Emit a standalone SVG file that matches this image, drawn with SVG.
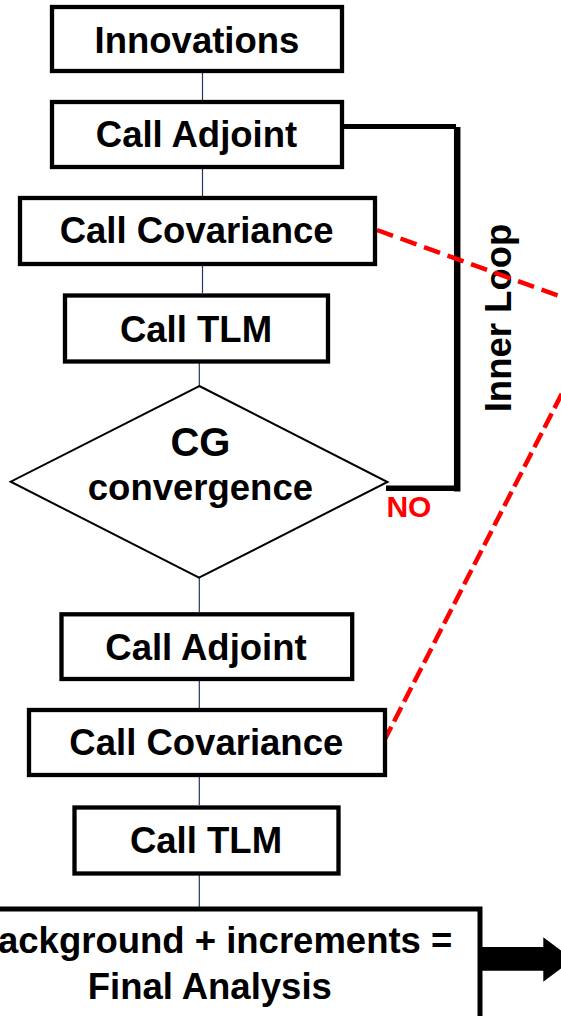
<svg xmlns="http://www.w3.org/2000/svg" width="561" height="1016" viewBox="0 0 561 1016">
<style>
.box{fill:#fff;stroke:#000;stroke-width:4.3}
.lbl{font-family:"Liberation Sans",Arial,sans-serif;font-weight:bold;font-size:36.5px;text-anchor:middle;fill:#000}
.conn{stroke:#1F3864;stroke-width:1.2;fill:none}
.loop{stroke:#000;fill:none}
.dash{stroke:#FF0000;stroke-width:4.5;fill:none}
</style>
<rect width="561" height="1016" fill="#fff"/>
<g id="connectors">
  <line class="conn" x1="202.5" y1="73" x2="202.5" y2="100"/>
  <line class="conn" x1="202.5" y1="169" x2="202.5" y2="196"/>
  <line class="conn" x1="202.5" y1="265" x2="202.5" y2="293"/>
  <line class="conn" x1="199.3" y1="363" x2="199.3" y2="386"/>
  <line class="conn" x1="199.3" y1="577.7" x2="199.3" y2="612"/>
  <line class="conn" x1="199.3" y1="681" x2="199.3" y2="708"/>
  <line class="conn" x1="199.3" y1="777" x2="199.3" y2="805"/>
  <line class="conn" x1="199.3" y1="875" x2="199.3" y2="907"/>
  <line class="loop" x1="344" y1="126.5" x2="456" y2="126.5" stroke-width="4.8"/>
  <line class="loop" x1="457.2" y1="127" x2="457.2" y2="491.5" stroke-width="6.5"/>
  <line class="loop" x1="386" y1="488.3" x2="460" y2="488.3" stroke-width="5.5"/>
  <text class="lbl" transform="translate(510.5,318) rotate(-90)">Inner Loop</text>
  <text x="386.4" y="517.3" style="font-family:'Liberation Sans',Arial,sans-serif;font-weight:bold;font-size:30px;fill:#FF0000">NO</text>
  <line class="dash" x1="377" y1="230" x2="600" y2="310.7" stroke-dasharray="17 8"/>
  <line class="dash" x1="384" y1="741" x2="580" y2="358.2" stroke-dasharray="16 6" stroke-width="4.2"/>
  <polygon points="481,947 543.3,947 543.3,937.3 573,959.5 543.3,981.7 543.3,970.7 481,970.7" fill="#000"/>
</g>
<g id="n1">
  <rect class="box" x="52" y="7" width="290" height="64"/>
  <text class="lbl" x="197" y="52.5">Innovations</text>
</g>
<g id="n2">
  <rect class="box" x="52" y="102" width="290" height="65"/>
  <text class="lbl" x="196.5" y="147">Call Adjoint</text>
</g>
<g id="n3">
  <rect class="box" x="20" y="198" width="355" height="66"/>
  <text class="lbl" x="196.6" y="243.3">Call Covariance</text>
</g>
<g id="n4">
  <rect class="box" x="65" y="295.5" width="263" height="66"/>
  <text class="lbl" x="196" y="341.7">Call TLM</text>
</g>
<g id="n5">
  <polygon points="199.3,386 387.5,482 199,577.7 10.7,481.7" fill="#fff" stroke="#000" stroke-width="2"/>
  <text class="lbl" x="200.4" y="456" style="font-size:40px">CG</text>
  <text class="lbl" x="200.4" y="500">convergence</text>
</g>
<g id="n6">
  <rect class="box" x="61.5" y="614.3" width="290.7" height="64.7"/>
  <text class="lbl" x="206" y="660">Call Adjoint</text>
</g>
<g id="n7">
  <rect class="box" x="29" y="710" width="356" height="65"/>
  <text class="lbl" x="206.3" y="755">Call Covariance</text>
</g>
<g id="n8">
  <rect class="box" x="74.5" y="807.5" width="264" height="66"/>
  <text class="lbl" x="206" y="853.3">Call TLM</text>
</g>
<g id="n9">
  <rect class="box" x="-30" y="909" width="510" height="140" style="stroke-width:5"/>
  <text class="lbl" x="212" y="953.3">Background + increments =</text>
  <text class="lbl" x="209.8" y="999">Final Analysis</text>
</g>
</svg>
